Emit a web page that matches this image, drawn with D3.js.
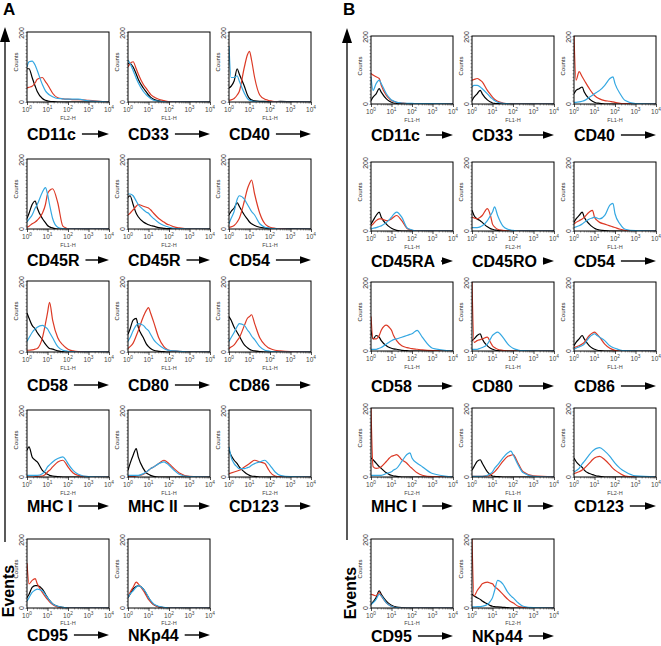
<!DOCTYPE html>
<html><head><meta charset="utf-8">
<script src="https://cdn.jsdelivr.net/npm/d3@7"></script>
<style>body{margin:0;background:#fff}svg{display:block}</style>
</head><body><svg id="c" width="661" height="646"></svg>
<script>
// log10 positions (channel = 10^value) at which each histogram count is read
const gridLog = [0,0.1,0.25,0.4,0.5,0.75,0.9,1,1.1,1.25,1.5,1.75,1.9,2,2.25,2.5,3,4];
const decadeTicks = [1,10,100,1000,10000];
const countDomain = [0,200];
const countTickLabels = ["0","200"];
const seriesColors = {black:"#000000", red:"#dc3a26", blue:"#35a8e2"};

// ---------- Panel A ----------
const panelA_labels = ["CD11c","CD33","CD40","CD45R","CD45R","CD54","CD58","CD80","CD86","MHC I","MHC II","CD123","CD95","NKp44"];
const panelA_channels = ["FL2-H","FL1-H","FL1-H","FL1-H","FL2-H","FL1-H","FL1-H","FL1-H","FL1-H","FL2-H","FL1-H","FL2-H","FL1-H","FL2-H"];
const panelA_black = [
 [95,95,70,45,30,10,5,3,2,1,0,0,0,0,0,0,0,0],
 [110,110,100,80,65,40,28,20,14,8,3,1,0,0,0,0,0,0],
 [40,45,60,95,80,45,20,10,6,3,2,2,1,2,1,2,1,0],
 [30,45,70,80,60,30,18,10,6,3,0,0,0,0,0,0,0,0],
 [90,95,70,45,35,20,15,12,10,8,4,2,1,1,0,0,0,0],
 [40,50,60,75,65,40,28,20,15,10,5,3,2,2,1,1,1,0],
 [110,95,75,65,55,35,22,15,10,8,3,1,0,0,0,0,0,0],
 [50,65,90,95,70,40,22,15,10,5,2,1,0,0,0,0,0,0],
 [100,90,70,55,45,20,12,8,5,3,1,0,0,0,0,0,0,0],
 [80,90,60,50,45,20,12,8,5,3,1,0,0,0,0,0,0,0],
 [20,40,65,85,60,25,12,8,5,2,0,0,0,0,0,0,0,0],
 [80,65,50,40,30,15,8,5,3,2,0,0,0,0,0,0,0,0],
 [30,40,60,65,65,55,40,30,22,12,5,2,1,0,0,0,0,0],
 [30,40,55,62,65,55,40,30,20,10,4,1,0,0,0,0,0,0]
];
const panelA_red = [
 [40,42,45,55,65,70,58,50,40,25,12,9,8,8,7,7,5,0],
 [100,110,115,95,80,50,38,30,22,15,8,4,2,1,0,0,0,0],
 [5,6,10,20,30,100,135,145,120,70,20,8,5,3,1,0,0,0],
 [5,8,15,20,25,45,70,100,110,115,75,8,3,0,0,0,0,0],
 [40,45,55,65,70,65,62,60,55,45,30,20,14,12,6,3,0,0],
 [5,6,10,20,30,80,115,130,140,100,45,15,8,5,2,1,0,0],
 [5,5,6,8,10,40,80,110,140,90,40,20,12,8,3,1,0,0],
 [10,15,25,45,60,100,118,125,110,85,40,15,8,5,3,2,0,0],
 [10,14,20,32,40,75,95,100,105,80,40,20,13,10,5,3,1,0],
 [0,0,0,1,2,3,8,15,20,30,45,50,40,30,12,5,1,0],
 [2,2,2,3,4,8,15,20,25,30,40,50,45,40,25,12,2,0],
 [10,12,15,18,20,30,36,40,45,50,45,40,25,15,3,1,0,0],
 [130,70,80,85,70,45,32,25,18,10,3,1,0,0,0,0,0,0],
 [30,45,60,75,70,50,35,25,18,10,3,1,0,0,0,0,0,0]
];
const panelA_blue = [
 [100,115,117,105,90,50,32,25,20,15,10,9,8,8,8,8,3,0],
 [120,110,90,68,55,30,20,15,10,5,2,1,0,0,0,0,0,0],
 [160,70,70,75,60,25,10,5,3,1,0,0,0,0,0,0,0,0],
 [20,28,40,60,70,105,118,100,70,30,5,1,0,0,0,0,0,0],
 [100,100,95,80,70,55,48,45,38,30,18,10,7,5,2,1,0,0],
 [15,30,50,85,95,85,70,60,50,40,15,5,3,2,1,0,0,0],
 [30,40,55,65,70,75,70,65,55,40,15,5,3,2,1,0,0,0],
 [30,40,60,75,80,75,65,60,50,35,20,10,6,5,3,2,0,0],
 [30,40,55,72,80,75,62,55,45,35,15,5,3,2,1,0,0,0],
 [5,5,5,5,5,10,20,30,36,45,55,60,50,40,20,8,1,0],
 [5,5,5,5,5,10,15,20,25,30,40,45,40,35,20,8,1,0],
 [90,60,40,30,25,25,28,30,35,40,45,50,42,35,15,5,1,0],
 [20,30,45,52,55,50,38,30,22,12,5,2,1,0,0,0,0,0],
 [30,40,50,60,65,55,42,30,22,12,5,2,1,0,0,0,0,0]
];

// ---------- Panel B ----------
const panelB_labels = ["CD11c","CD33","CD40","CD45RA","CD45RO","CD54","CD58","CD80","CD86","MHC I","MHC II","CD123","CD95","NKp44"];
const panelB_channels = ["FL1-H","FL1-H","FL1-H","FL1-H","FL2-H","FL1-H","FL1-H","FL1-H","FL1-H","FL2-H","FL1-H","FL2-H","FL1-H","FL2-H"];
const panelB_black = [
 [10,20,30,45,35,15,8,5,3,2,1,0,0,0,0,0,0,0],
 [10,20,30,40,30,12,6,3,2,1,0,0,0,0,0,0,0,0],
 [30,40,45,50,35,15,8,5,3,2,0,0,0,0,0,0,0,0],
 [20,30,45,55,40,20,12,8,5,2,0,0,0,0,0,0,0,0],
 [60,45,35,30,25,12,7,5,3,2,0,0,0,0,0,0,0,0],
 [25,35,45,55,40,20,12,8,5,3,1,0,0,0,0,0,0,0],
 [60,35,45,40,30,15,10,8,6,5,2,1,0,0,0,0,0,0],
 [30,35,45,50,35,15,8,5,3,1,0,0,0,0,0,0,0,0],
 [15,25,35,45,35,15,8,5,3,1,0,0,0,0,0,0,0,0],
 [55,50,40,30,25,12,7,5,3,2,0,0,0,0,0,0,0,0],
 [20,30,45,50,40,15,7,3,2,1,0,0,0,0,0,0,0,0],
 [55,45,35,28,20,10,7,5,3,2,0,0,0,0,0,0,0,0],
 [10,18,30,50,40,20,12,8,5,3,1,0,0,0,0,0,0,0],
 [40,35,30,25,20,12,7,5,4,3,2,1,0,0,0,0,0,0]
];
const panelB_red = [
 [90,85,80,75,55,25,15,10,8,5,3,1,0,0,0,0,0,0],
 [70,72,75,70,65,40,28,20,14,8,3,1,0,0,0,0,0,0],
 [200,70,95,80,70,45,32,25,20,15,10,8,6,5,2,1,0,0],
 [15,20,30,35,35,30,32,35,40,45,30,8,4,2,0,0,0,0],
 [40,38,35,40,45,65,45,20,12,5,2,0,0,0,0,0,0,0],
 [20,25,30,35,40,55,60,40,32,25,20,15,12,10,5,2,0,0],
 [100,35,35,45,60,75,68,60,45,30,15,10,8,7,5,3,1,0],
 [200,25,30,33,35,40,25,15,10,5,2,0,0,0,0,0,0,0],
 [10,12,15,20,25,45,52,55,50,40,20,8,4,2,0,0,0,0],
 [200,30,25,27,30,45,55,60,62,65,50,40,30,25,12,5,1,0],
 [2,2,2,2,2,3,6,10,15,25,45,60,63,65,40,15,3,0],
 [10,12,15,20,25,40,50,55,58,60,50,35,25,20,10,3,0,0],
 [40,38,35,45,35,15,8,5,3,1,0,0,0,0,0,0,0,0],
 [200,35,50,62,70,75,72,70,62,55,40,25,18,15,5,2,0,0]
];
const panelB_blue = [
 [80,40,60,70,60,30,18,12,9,5,3,2,2,2,1,1,1,0],
 [50,55,55,50,45,30,20,15,10,5,2,1,0,0,0,0,0,0],
 [5,5,6,8,10,20,26,30,34,40,55,75,80,60,30,10,1,0],
 [5,8,10,13,15,25,33,40,48,55,40,10,5,3,0,0,0,0],
 [10,10,10,12,15,30,45,55,70,45,15,5,3,2,0,0,0,0],
 [10,12,15,20,25,35,38,40,38,35,45,75,80,50,20,5,1,0],
 [5,5,5,8,10,20,26,30,33,35,40,45,48,50,60,40,8,0],
 [5,5,5,8,10,20,35,45,50,55,40,20,12,8,3,1,0,0],
 [5,8,12,16,20,40,47,50,46,40,30,15,10,8,3,1,0,0],
 [5,5,5,5,5,10,13,15,20,25,45,65,70,55,40,30,10,0],
 [2,2,2,2,2,5,10,15,25,35,55,70,75,65,35,12,2,0],
 [15,18,25,38,45,65,75,80,83,85,75,60,48,40,25,15,3,0],
 [10,15,25,40,35,15,8,5,3,1,0,0,0,0,0,0,0,0],
 [3,3,4,4,5,10,20,30,50,80,70,45,35,30,15,5,1,0]
];

// ---------- layout ----------
const plotW = 82;
const panels = [
  {letter:"A", letterX:3, labels:panelA_labels, channels:panelA_channels,
   black:panelA_black, red:panelA_red, blue:panelA_blue,
   cols:[27,128,229], tops:[32,159,281,410,539], bottoms:[102,229,352,477,608],
   labelY:[140,266,391,512,641], axisX:5, axisTop:27, axisBottom:542, eventsBase:14, eventsY:591},
  {letter:"B", letterX:343, labels:panelB_labels, channels:panelB_channels,
   black:panelB_black, red:panelB_red, blue:panelB_blue,
   cols:[371,472,574], tops:[36,162,282,408,539], bottoms:[104,231,351,477,608],
   labelY:[141,267,392,512,642], axisX:347, axisTop:28, axisBottom:540, eventsBase:356, eventsY:593}
];

const svg = d3.select("#c");
const FONT = "'Liberation Sans', Arial, Helvetica, sans-serif";

panels.forEach(p => {
  svg.append("text").attr("x", p.letterX).attr("y", 15)
    .attr("font-family", FONT).attr("font-weight", "bold").attr("font-size", 17).text(p.letter);

  // vertical "Events" arrow
  svg.append("line").attr("x1", p.axisX).attr("x2", p.axisX)
    .attr("y1", p.axisTop + 12).attr("y2", p.axisBottom)
    .attr("stroke", "#000").attr("stroke-width", 1.3);
  svg.append("path")
    .attr("d", `M${p.axisX},${p.axisTop} L${p.axisX-5},${p.axisTop+15} L${p.axisX+5},${p.axisTop+15} Z`)
    .attr("fill", "#000");
  svg.append("text").attr("transform", `translate(${p.eventsBase},${p.eventsY}) rotate(-90)`)
    .attr("text-anchor", "middle").attr("font-family", FONT).attr("font-weight", "bold")
    .attr("font-size", 16).text("Events");

  p.labels.forEach((lab, i) => {
    const row = Math.floor(i / 3), col = i % 3;
    const left = p.cols[col], top = p.tops[row], bottom = p.bottoms[row];
    const h = bottom - top;
    const x = d3.scaleLog().domain([decadeTicks[0], decadeTicks[4]]).range([0, plotW]);
    const y = d3.scaleLinear().domain(countDomain).range([h, 0]);
    const g = svg.append("g").attr("transform", `translate(${left},${top})`);

    const clipId = `clip${p.letter}${i}`;
    g.append("clipPath").attr("id", clipId).append("rect")
      .attr("x", 0).attr("y", 0).attr("width", plotW).attr("height", h);

    const line = d3.line()
      .x((d, k) => x(Math.pow(10, gridLog[k])))
      .y(d => y(d))
      .curve(d3.curveMonotoneX);

    const lines = g.append("g").attr("clip-path", `url(#${clipId})`);
    [["black", p.black[i]], ["red", p.red[i]], ["blue", p.blue[i]]].forEach(([nm, vals]) => {
      lines.append("path").datum(vals).attr("d", line)
        .attr("fill", "none").attr("stroke", seriesColors[nm])
        .attr("stroke-width", 1.2).attr("stroke-linejoin", "round");
    });

    // x axis (major + minor ticks)
    const minor = [];
    for (let d = 0; d < 4; d++) for (let m = 2; m <= 9; m++) minor.push(m * Math.pow(10, d));
    g.append("g").attr("transform", `translate(0,${h})`)
      .call(d3.axisBottom(x).tickValues(minor).tickSize(1.5).tickFormat(""))
      .call(a => a.select(".domain").remove())
      .selectAll("line").attr("stroke", "#555").attr("stroke-width", 0.6);
    g.append("g").attr("transform", `translate(0,${h})`)
      .call(d3.axisBottom(x).tickValues(decadeTicks).tickSize(3).tickFormat(""))
      .call(a => a.select(".domain").remove())
      .selectAll("line").attr("stroke", "#222").attr("stroke-width", 0.8);

    // y axis ticks
    g.append("g")
      .call(d3.axisLeft(y).tickValues(d3.range(0, 201, 10)).tickSize(1.5).tickFormat(""))
      .call(a => a.select(".domain").remove())
      .selectAll("line").attr("stroke", "#555").attr("stroke-width", 0.6);

    // box
    g.append("rect").attr("x", 0).attr("y", 0).attr("width", plotW).attr("height", h)
      .attr("fill", "none").attr("stroke", "#000").attr("stroke-width", 1);

    // x tick labels 10^n
    decadeTicks.forEach((t, k) => {
      const tx = g.append("text").attr("x", x(t)).attr("y", h + 10)
        .attr("text-anchor", "middle").attr("font-family", FONT)
        .attr("font-size", 6.5).attr("fill", "#444");
      tx.append("tspan").text("10");
      tx.append("tspan").attr("dy", -3).attr("font-size", 4.8).text(String(k));
    });
    g.append("text").attr("x", x(100)).attr("y", h + (row === 4 ? 16.5 : 18)).attr("text-anchor", "middle")
      .attr("font-family", FONT).attr("font-size", 5.5).attr("fill", "#444").text(p.channels[i]);

    // y tick labels
    countTickLabels.forEach((t, k) => {
      g.append("text").attr("transform", `translate(-3,${y(countDomain[k]) + (k ? 1 : 0)}) rotate(-90)`)
        .attr("text-anchor", "middle").attr("font-family", FONT)
        .attr("font-size", 7).attr("fill", "#333").text(t);
    });
    g.append("text").attr("transform", `translate(-9,${30}) rotate(-90)`)
      .attr("text-anchor", "middle").attr("font-family", FONT)
      .attr("font-size", 6).attr("fill", "#222").text("Counts");

    // category label + arrow
    const ly = p.labelY[row];
    const txt = svg.append("text").attr("x", left).attr("y", ly)
      .attr("font-family", FONT).attr("font-weight", "bold").attr("font-size", 16).text(lab);
    const tw = txt.node().getComputedTextLength();
    const ax0 = left + tw + 6, ax1 = left + plotW;
    const ay = ly - 6;
    svg.append("line").attr("x1", ax0).attr("x2", ax1 - 9).attr("y1", ay).attr("y2", ay)
      .attr("stroke", "#000").attr("stroke-width", 1.4);
    svg.append("path")
      .attr("d", `M${ax1},${ay} L${ax1-11},${ay-3.8} L${ax1-11},${ay+3.8} Z`).attr("fill", "#000");
  });
});
</script>
</body></html>
